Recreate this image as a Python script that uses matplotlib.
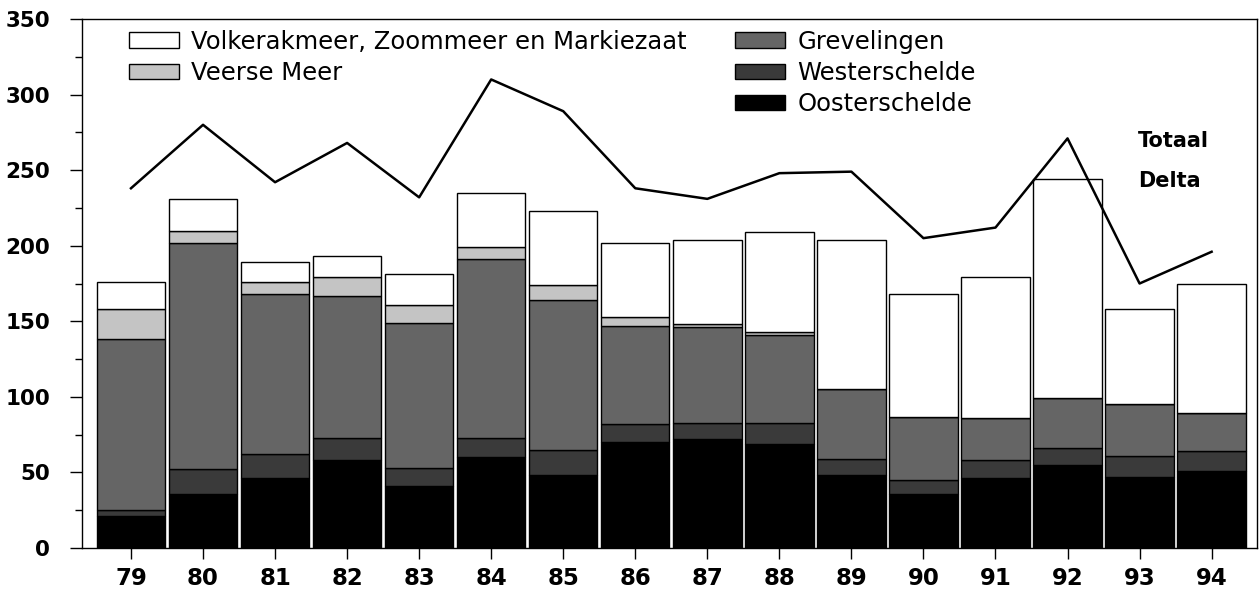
import numpy as np
import matplotlib
matplotlib.use('Agg')
import matplotlib.pyplot as plt
from matplotlib.patches import Patch
from matplotlib.ticker import MultipleLocator

# data (per year, stacked from bottom up)
years = ['79', '80', '81', '82', '83', '84', '85', '86', '87', '88', '89', '90', '91', '92', '93', '94']
oosterschelde = [21, 36, 46, 58, 41, 60, 48, 70, 72, 69, 48, 36, 46, 55, 47, 51]
westerschelde = [4, 16, 16, 15, 12, 13, 17, 12, 11, 14, 11, 9, 12, 11, 14, 13]
grevelingen = [113, 150, 106, 94, 96, 118, 99, 65, 63, 58, 46, 42, 28, 33, 34, 25]
veerse_meer = [20, 8, 8, 12, 12, 8, 10, 6, 2, 2, 0, 0, 0, 0, 0, 0]
volkerak = [18, 21, 13, 14, 20, 36, 49, 49, 56, 66, 99, 81, 93, 145, 63, 86]
totaal_delta = [238, 280, 242, 268, 232, 310, 289, 238, 231, 248, 249, 205, 212, 271, 175, 196]

series = [
    ('Oosterschelde', oosterschelde, '#000000'),
    ('Westerschelde', westerschelde, '#3a3a3a'),
    ('Grevelingen', grevelingen, '#656565'),
    ('Veerse Meer', veerse_meer, '#c4c4c4'),
    ('Volkerakmeer, Zoommeer en Markiezaat', volkerak, '#ffffff'),
]

plt.rcParams['font.family'] = ['DejaVu Sans']

fig = plt.figure(figsize=(12.6, 5.95), dpi=100)
ax = fig.add_axes([82 / 1260, 47 / 595, 1175 / 1260, 529 / 595])

x = np.arange(len(years))
bottom = np.zeros(len(years))
handles = {}
for name, vals, col in series:
    vals = np.array(vals, dtype=float)
    ax.bar(x, vals, width=0.95, bottom=bottom, color=col, edgecolor='black', linewidth=1.0)
    handles[name] = Patch(facecolor=col, edgecolor='black', linewidth=1.0)
    bottom += vals

ax.plot(x, totaal_delta, color='black', linewidth=1.8)
ax.text(x[-1] - 1.02, 276, 'Totaal\n\nDelta', fontsize=15, fontweight='bold',
        va='top', ha='left', linespacing=1.0)

ax.set_xlim(-0.68, len(years) - 1 + 0.63)
ax.set_ylim(0, 350)
ax.set_xticks(x)
ax.set_xticklabels(years, fontsize=16.5, fontweight='bold')
ax.yaxis.set_major_locator(MultipleLocator(50))
ax.yaxis.set_minor_locator(MultipleLocator(25))
ax.tick_params(axis='y', which='major', length=9, width=1, labelsize=15.5, pad=14)
ax.tick_params(axis='y', which='minor', length=5, width=1)
ax.tick_params(axis='x', length=8, width=1, pad=6)
for lab in ax.get_yticklabels():
    lab.set_fontweight('bold')
for sp in ax.spines.values():
    sp.set_linewidth(1.0)

# legend: two blocks like the original
leg_kw = dict(frameon=False, fontsize=17.5, handlelength=2.05, handleheight=0.6,
              handletextpad=0.5, labelspacing=0.3, borderaxespad=0, borderpad=0)
names1 = ['Volkerakmeer, Zoommeer en Markiezaat', 'Veerse Meer']
names2 = ['Grevelingen', 'Westerschelde', 'Oosterschelde']
leg1 = ax.legend([handles[n] for n in names1], names1, loc='upper left',
                 bbox_to_anchor=(0.040, 0.98), **leg_kw)
ax.add_artist(leg1)
ax.legend([handles[n] for n in names2], names2, loc='upper left',
          bbox_to_anchor=(0.556, 0.98), **leg_kw)

plt.savefig('out.png', dpi=100)
